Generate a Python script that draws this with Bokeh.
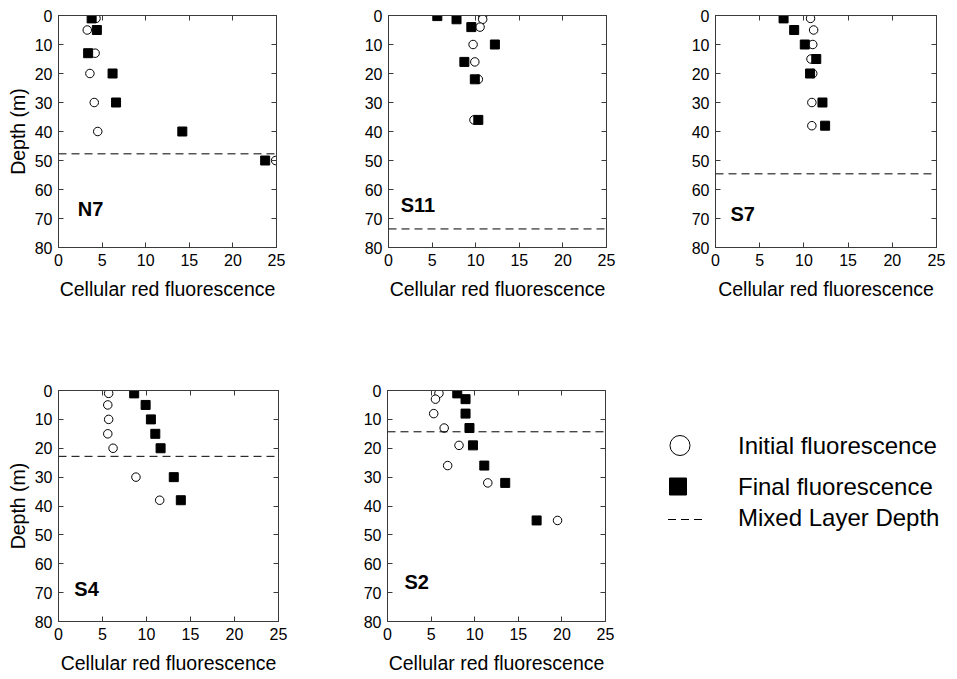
from bokeh.plotting import figure
from bokeh.layouts import row, column
from bokeh.models import (Range1d, FixedTicker, LinearAxis, Span, Label,
                          CustomLabelingPolicy)
from bokeh.core.properties import value
from bokeh.embed import file_html
from bokeh.resources import INLINE

FONT = "Liberation Sans"

# ---------------- data ----------------
x_ticks = [0, 5, 10, 15, 20, 25]
y_ticks = [0, 10, 20, 30, 40, 50, 60, 70, 80]
x_label = "Cellular red fluorescence"
y_label = "Depth (m)"

n7_depth_initial = [1, 5, 13, 20, 30, 40, 50]
n7_initial = [4.3, 3.3, 4.2, 3.6, 4.1, 4.5, 24.9]
n7_depth_final = [1, 5, 13, 20, 30, 40, 50]
n7_final = [3.8, 4.4, 3.4, 6.2, 6.6, 14.2, 23.7]
n7_mld = 47.7

s11_depth_initial = [0, 1.3, 4, 10, 16, 22, 36]
s11_initial = [10.8, 10.8, 10.5, 9.7, 9.9, 10.3, 9.8]
s11_depth_final = [0.2, 1.3, 4, 10, 16, 22, 36]
s11_final = [5.6, 7.8, 9.5, 12.2, 8.7, 9.9, 10.3]
s11_mld = 73.6

s7_depth_initial = [1, 5, 10, 15, 20, 30, 38]
s7_initial = [10.75, 11.1, 11.0, 10.8, 11.0, 10.9, 10.9]
s7_depth_final = [1, 5, 10, 15, 20, 30, 38]
s7_final = [7.7, 8.9, 10.1, 11.4, 10.7, 12.1, 12.4]
s7_mld = 54.6

s4_depth_initial = [1, 5, 10, 15, 20, 30, 38]
s4_initial = [5.7, 5.6, 5.7, 5.6, 6.2, 8.8, 11.5]
s4_depth_final = [1, 5, 10, 15, 20, 30, 38]
s4_final = [8.6, 9.9, 10.5, 11.0, 11.6, 13.1, 13.9]
s4_mld = 22.8

s2_depth_initial = [1, 3, 8, 13, 19, 26, 32, 45]
s2_initial = [5.9, 5.5, 5.3, 6.5, 8.2, 6.9, 11.5, 19.5]
s2_depth_final = [1, 3, 8, 13, 19, 26, 32, 45]
s2_final = [8.0, 8.95, 8.95, 9.4, 9.8, 11.1, 13.5, 17.1]
s2_mld = 14.3

legend_labels = ["Initial fluorescence", "Final fluorescence", "Mixed Layer Depth"]

AX_COLOR = "#3a3a3a"


def style_axis(ax, show_labels=True):
    ax.axis_line_color = AX_COLOR
    ax.major_tick_line_color = AX_COLOR
    ax.major_tick_in = 5
    ax.major_tick_out = 0
    ax.minor_tick_in = 0
    ax.minor_tick_out = 0
    ax.minor_tick_line_color = None
    if show_labels:
        ax.major_label_text_font = FONT
        ax.major_label_text_font_size = "16px"
        ax.major_label_text_color = "black"
    else:
        ax.major_label_policy = CustomLabelingPolicy(code="return new Set()")
        ax.major_label_standoff = 0


def panel(name, xi, di, xf, df, mld, fw, fh, left, right, top, bottom, ylab, lab_x, lab_y):
    p = figure(output_backend="svg", toolbar_location=None,
               frame_width=fw, frame_height=fh,
               min_border_left=left, min_border_right=right,
               min_border_top=top, min_border_bottom=bottom,
               x_range=Range1d(0, 25), y_range=Range1d(80, 0))
    p.background_fill_color = "white"
    p.border_fill_color = "white"
    p.outline_line_color = AX_COLOR
    p.grid.visible = False

    xa = p.xaxis[0]
    xa.ticker = FixedTicker(ticks=x_ticks)
    style_axis(xa)
    xa.major_label_standoff = 6
    xa.axis_label = x_label
    xa.axis_label_text_font = FONT
    xa.axis_label_text_font_size = "19.5px"
    xa.axis_label_text_font_style = "normal"
    xa.axis_label_text_color = "black"
    xa.axis_label_standoff = 9

    ya = p.yaxis[0]
    ya.ticker = FixedTicker(ticks=y_ticks)
    style_axis(ya)
    ya.major_label_standoff = 6
    if ylab:
        ya.axis_label = y_label
        ya.axis_label_text_font = FONT
        ya.axis_label_text_font_size = "19.5px"
        ya.axis_label_text_font_style = "normal"
        ya.axis_label_text_color = "black"
        ya.axis_label_standoff = 3

    ra = LinearAxis(ticker=FixedTicker(ticks=y_ticks))
    style_axis(ra, show_labels=False)
    p.add_layout(ra, "right")
    ta = LinearAxis(ticker=FixedTicker(ticks=x_ticks))
    style_axis(ta, show_labels=False)
    p.add_layout(ta, "above")

    p.add_layout(Span(location=mld, dimension="width", line_color="black",
                      line_width=1, line_dash="8 5"))

    p.scatter(x=xi, y=di, marker="circle", size=8.5, fill_color="white",
              line_color="black", line_width=1)
    p.scatter(x=xf, y=df, marker="square", size=9, fill_color="black",
              line_color="black", line_width=1)

    p.add_layout(Label(x=lab_x, y=lab_y, text=name, text_font=FONT,
                       text_font_size="20px", text_font_style="bold",
                       text_color="black",
                       text_baseline="alphabetic", text_align="left"))
    return p


TOP1, BOT1 = 15, 132
TOP2, BOT2 = 7, 58
FH2 = 231
pA = panel("N7", n7_initial, n7_depth_initial, n7_final, n7_depth_final, n7_mld,
           218, 232, 58, 62, TOP1, BOT1, True, 2.2, 66.8)
pB = panel("S11", s11_initial, s11_depth_initial, s11_final, s11_depth_final, s11_mld,
           218, 232, 50, 59, TOP1, BOT1, False, 1.4, 65.3)
pC = panel("S7", s7_initial, s7_depth_initial, s7_final, s7_depth_final, s7_mld,
           221, 232, 50, 5, TOP1, BOT1, False, 1.7, 68.5)
pD = panel("S4", s4_initial, s4_depth_initial, s4_final, s4_depth_final, s4_mld,
           220, FH2, 58, 59, TOP2, BOT2, True, 1.8, 68.7)
pE = panel("S2", s2_initial, s2_depth_initial, s2_final, s2_depth_final, s2_mld,
           218, FH2, 50, 10, TOP2, BOT2, False, 1.95, 66.3)

# legend panel: its ranges are expressed in page pixels; its frame lines up
# with the frames of the panels in the same row
row1_h = TOP1 + 232 + BOT1
frame_top = row1_h + TOP2 + 3
leg_left = 337 + 278 + 5.5
leg_w = 941 - 615
leg = figure(output_backend="svg", toolbar_location=None,
             frame_width=leg_w, frame_height=FH2,
             min_border_left=0, min_border_right=0,
             min_border_top=TOP2, min_border_bottom=BOT2,
             x_range=Range1d(leg_left, leg_left + leg_w),
             y_range=Range1d(frame_top + FH2, frame_top),
             x_axis_type=None, y_axis_type=None)
leg.outline_line_color = None
leg.grid.visible = False
leg.scatter(x=[680], y=[444], marker="circle", size=20, fill_color="white",
            line_color="black", line_width=1)
leg.scatter(x=[678], y=[485], marker="square", size=17, fill_color="black",
            line_color="black")
leg.segment(x0=[668], y0=[518], x1=[702], y1=[518], line_color="black",
            line_width=1, line_dash="8 5")
leg.text(x=[738, 738, 738], y=[444, 485, 516], text=legend_labels,
         text_font=value(FONT), text_font_size=value("24px"),
         text_baseline="alphabetic", text_color="black")

layout = column(row(pA, pB, pC), row(pD, pE, leg))

with open("out.html", "w") as f:
    f.write(file_html(layout, INLINE))
